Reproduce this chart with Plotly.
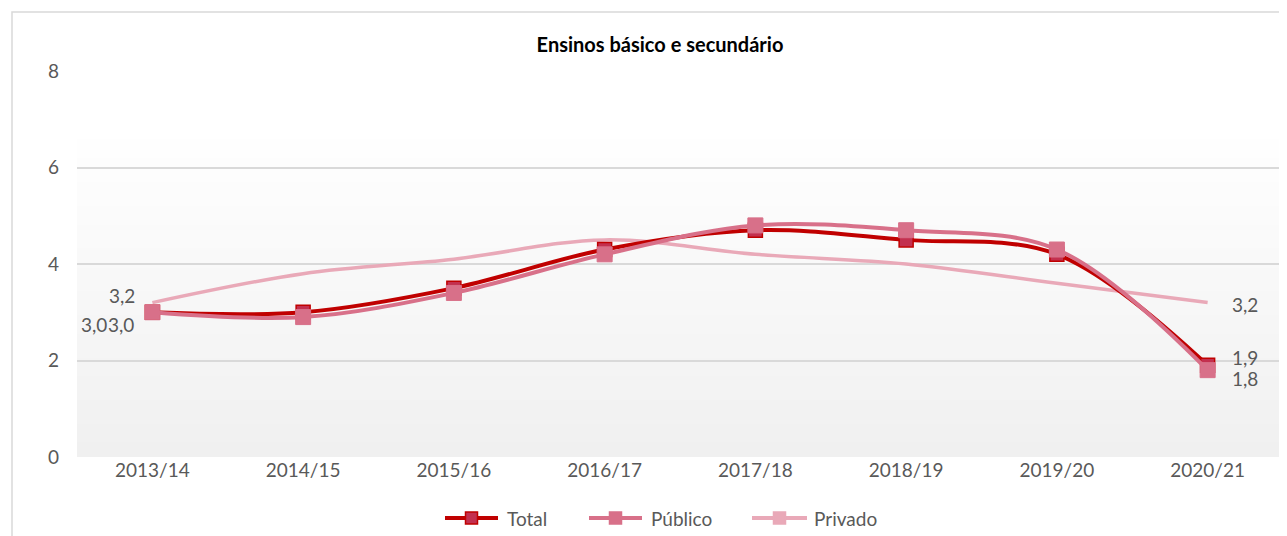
import plotly.graph_objects as go

categories = ["2013/14", "2014/15", "2015/16", "2016/17", "2017/18", "2018/19", "2019/20", "2020/21"]
total = [3.0, 3.0, 3.5, 4.3, 4.7, 4.5, 4.2, 1.9]
publico = [3.0, 2.9, 3.4, 4.2, 4.8, 4.7, 4.3, 1.8]
privado = [3.2, 3.8, 4.1, 4.5, 4.2, 4.0, 3.6, 3.2]
y_ticks = [0, 2, 4, 6, 8]
series_names = ["Total", "Público", "Privado"]

OFF = 8  # page body margin
W, H = 1287 - OFF, 536 - OFF
L, R, T, B = 69, 4, 63, 79
pw, ph = W - L - R, H - T - B

FONT = "Lato, 'Open Sans', sans-serif"
GREY = "#595959"
C_TOTAL = "#C00000"
C_PUB = "#D87089"
C_PRIV = "#E9A9B8"
FS = 19

def fmt(v):
    return f"{v:.1f}".replace(".", ",")

def px(sx):  # screen x -> paper x
    return (sx - OFF - L) / pw

def py(sy):  # screen y -> paper y
    return (T + ph - (sy - OFF)) / ph

fig = go.Figure()

fig.add_trace(go.Scatter(
    x=categories, y=privado, mode="lines", name=series_names[2], showlegend=False,
    line=dict(color=C_PRIV, width=3.5, shape="spline", smoothing=1.0),
    cliponaxis=False,
))
fig.add_trace(go.Scatter(
    x=categories, y=total, mode="lines+markers", name=series_names[0], showlegend=False,
    line=dict(color=C_TOTAL, width=4, shape="spline", smoothing=1.0),
    marker=dict(symbol="square", size=14, color="#C3304F", line=dict(color=C_TOTAL, width=1.5)),
    cliponaxis=False,
))
fig.add_trace(go.Scatter(
    x=categories, y=publico, mode="lines+markers", name=series_names[1], showlegend=False,
    line=dict(color=C_PUB, width=4, shape="spline", smoothing=1.0),
    marker=dict(symbol="square", size=15, color=C_PUB, line=dict(color=C_PUB, width=1)),
    cliponaxis=False,
))

# data labels
first, last = categories[0], categories[-1]
lab_font = dict(family=FONT, size=FS, color=GREY)
annotations = [
    dict(x=first, y=privado[0], text=fmt(privado[0]), xanchor="right", yanchor="middle",
         xshift=-15, yshift=7),
    dict(x=first, y=publico[0], text=fmt(publico[0]), xanchor="right", yanchor="middle",
         xshift=-16, yshift=-12),
    dict(x=first, y=total[0], text=fmt(total[0]), xanchor="right", yanchor="middle",
         xshift=-43, yshift=-12),
    dict(x=last, y=privado[-1], text=fmt(privado[-1]), xanchor="left", yanchor="middle",
         xshift=22, yshift=-2),
    dict(x=last, y=total[-1], text=fmt(total[-1]), xanchor="left", yanchor="middle",
         xshift=22, yshift=8),
    dict(x=last, y=publico[-1], text=fmt(publico[-1]), xanchor="left", yanchor="middle",
         xshift=22, yshift=-8),
]
for a in annotations:
    a.update(xref="x", yref="y", showarrow=False, font=lab_font)

shapes = []
# gradient background bands
n = 70
y_top_frac = 0.86
for i in range(n):
    y0 = i / n * y_top_frac
    y1 = (i + 1) / n * y_top_frac + 0.002
    t = i / (n - 1)
    g = int(round(240 + (255 - 240) * t))
    shapes.append(dict(type="rect", xref="paper", yref="paper", x0=0, x1=1, y0=y0, y1=y1,
                       fillcolor=f"rgb({g},{g},{g})", line=dict(width=0), layer="below"))
# outer border
shapes.append(dict(type="rect", xref="paper", yref="paper",
                   x0=(4 - L) / pw, x1=(W + 10 - L) / pw,
                   y0=-(B + 10) / ph, y1=(T - 4 + ph) / ph,
                   line=dict(color="#D9D9D9", width=1.5), fillcolor="rgba(0,0,0,0)", layer="below"))

# custom legend (line + square symbol + text)
leg_y = 518
leg_items = [
    (series_names[0], C_TOTAL, "#C3304F", C_TOTAL, 445, 498, 505),
    (series_names[1], C_PUB, C_PUB, C_PUB, 589, 642, 649),
    (series_names[2], C_PRIV, C_PRIV, C_PRIV, 752, 807, 812),
]
for name, lc, mc, ml, x0, x1, tx in leg_items:
    shapes.append(dict(type="line", xref="paper", yref="paper", x0=px(x0), x1=px(x1),
                       y0=py(leg_y), y1=py(leg_y), line=dict(color=lc, width=4, cap="round") if False else dict(color=lc, width=4)))
    cx = (x0 + x1) / 2
    shapes.append(dict(type="rect", xref="paper", yref="paper",
                       x0=px(cx - 6), x1=px(cx + 6), y0=py(leg_y + 6), y1=py(leg_y - 6),
                       fillcolor=mc, line=dict(color=ml, width=1.5)))
    annotations.append(dict(xref="paper", yref="paper", x=px(tx), y=py(leg_y), text=name,
                            xanchor="left", yanchor="middle", showarrow=False,
                            font=dict(family=FONT, size=FS, color=GREY)))

fig.update_layout(
    width=W, height=H,
    margin=dict(l=L, r=R, t=T, b=B),
    paper_bgcolor="white", plot_bgcolor="rgba(0,0,0,0)",
    font=dict(family=FONT, size=FS, color=GREY),
    title=dict(text="<b>Ensinos básico e secundário</b>", x=(660 - OFF) / W,
               xanchor="center", y=1 - (45 - OFF) / H, yanchor="middle",
               font=dict(family=FONT, size=20, color="#000000")),
    shapes=shapes,
    annotations=annotations,
    showlegend=False,
    hovermode=False,
)
fig.update_xaxes(type="category", range=[-0.5, len(categories) - 0.5], showgrid=False,
                 showline=False, ticks="", tickfont=dict(family=FONT, size=FS, color=GREY))
fig.update_yaxes(range=[0, 8], tickvals=y_ticks, showgrid=True, gridcolor="#D9D9D9", gridwidth=1.5,
                 zeroline=False, showline=False, ticks="", ticklabelstandoff=17,
                 tickfont=dict(family=FONT, size=FS, color=GREY))

fig.write_html("out.html")
